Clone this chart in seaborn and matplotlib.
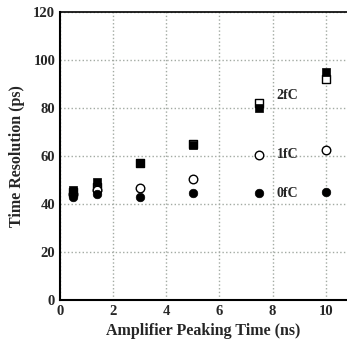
import matplotlib
matplotlib.use("Agg")
import matplotlib.pyplot as plt
import seaborn as sns
import pandas as pd
from matplotlib.ticker import MultipleLocator

peaking = [0.5, 1.4, 3.0, 5.0, 7.5, 10.0]
res_0fC = [43, 44, 43, 44.5, 44.5, 45]
res_1fC = [44, 46, 46.5, 50.5, 60.5, 62.5]
res_2fC_open = [45, 47, 57, 65, 82, 92]
res_2fC_filled = [46, 49, 57, 64.5, 80, 95]
labels = ["2fC", "1fC", "0fC"]
label_y = [85, 60.5, 44.5]

sns.set_style("white")
plt.rcParams['font.family'] = ['Liberation Serif', 'DejaVu Serif']
plt.rcParams['font.weight'] = 'bold'

fig = plt.figure(figsize=(3.47, 3.42), dpi=100)
ax = fig.add_axes([0.173, 0.123, 0.827, 0.842])

df = pd.DataFrame({"x": peaking, "s0": res_0fC, "s1": res_1fC,
                   "s2o": res_2fC_open, "s2f": res_2fC_filled})

sns.scatterplot(data=df, x="x", y="s2o", marker="s", s=38, facecolor="white",
                edgecolor="black", linewidth=1.0, ax=ax, zorder=3)
sns.scatterplot(data=df, x="x", y="s2f", marker="s", s=38, color="black",
                edgecolor="black", ax=ax, zorder=4)
sns.scatterplot(data=df, x="x", y="s1", marker="o", s=38, facecolor="white",
                edgecolor="black", linewidth=1.0, ax=ax, zorder=3)
sns.scatterplot(data=df, x="x", y="s0", marker="o", s=38, color="black",
                edgecolor="black", ax=ax, zorder=4)

for t, yv in zip(labels, label_y):
    ax.text(8.15, yv, t, fontsize=10, fontweight='bold', va='center', ha='left')

ax.set_xlim(0, 10.8)
ax.set_ylim(0, 120)
ax.xaxis.set_major_locator(MultipleLocator(2))
ax.xaxis.set_minor_locator(MultipleLocator(0.5))
ax.yaxis.set_major_locator(MultipleLocator(20))
ax.yaxis.set_minor_locator(MultipleLocator(5))
ax.grid(True, which='major', color='#a3aaa3', linestyle=':', linewidth=1.0)
ax.tick_params(which='both', direction='in', labelsize=10.5, width=1)
ax.tick_params(which='major', length=4)
ax.tick_params(which='minor', length=2)
for lab in ax.get_xticklabels() + ax.get_yticklabels():
    lab.set_fontweight('bold')
for side in ['left', 'bottom']:
    ax.spines[side].set_linewidth(1.5)
ax.spines['top'].set_linewidth(1.2)
ax.spines['right'].set_visible(False)
for sp in ax.spines.values():
    sp.set_color('black')

ax.set_xlabel("Amplifier Peaking Time (ns)", fontsize=11.5, fontweight='bold', labelpad=4)
ax.set_ylabel("Time Resolution (ps)", fontsize=11.5, fontweight='bold', labelpad=6)

fig.savefig("out.png", dpi=100)
